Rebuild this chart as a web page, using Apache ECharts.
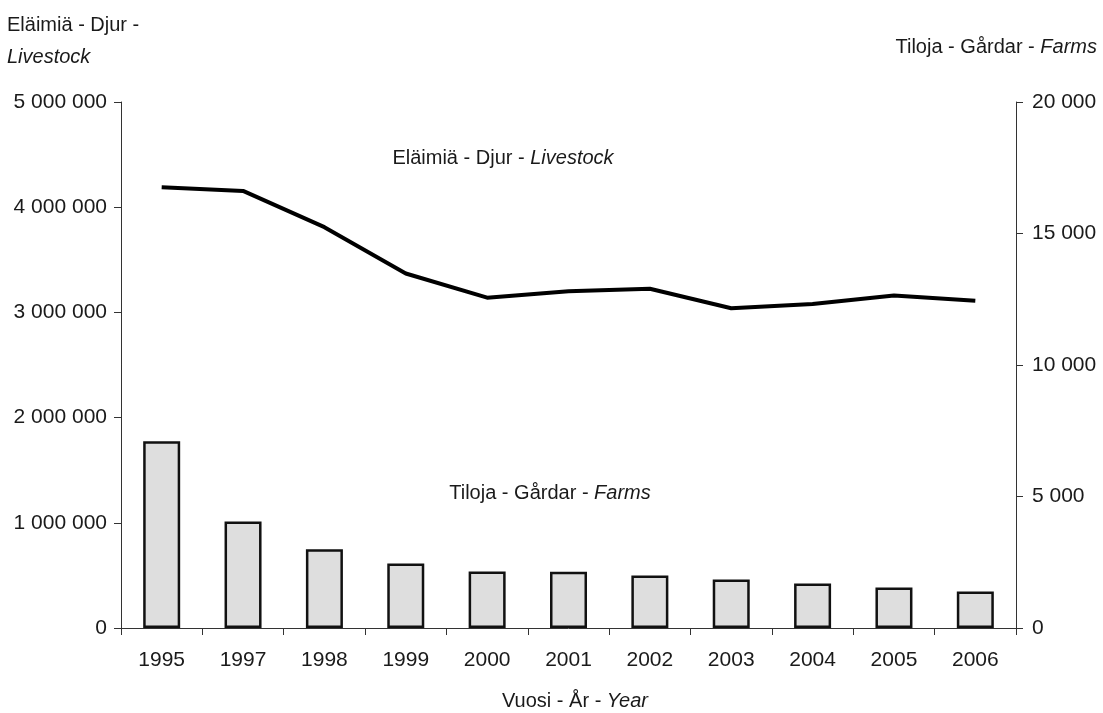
<!DOCTYPE html>
<html>
<head>
<meta charset="utf-8">
<script src="https://cdn.jsdelivr.net/npm/echarts@6/dist/echarts.min.js"></script>
<style>html,body{margin:0;padding:0;background:#fff}#c{width:1103px;height:713px}</style>
</head>
<body>
<div id="c"></div>
<script>
const years = ['1995','1997','1998','1999','2000','2001','2002','2003','2004','2005','2006'];
const livestock = [4190000,4155000,3810000,3370000,3140000,3200000,3225000,3040000,3080000,3160000,3110000];
const farms = [7100,4050,2990,2455,2150,2140,2000,1845,1695,1540,1390];
const leftTicks = [0,1000000,2000000,3000000,4000000,5000000];
const rightTicks = [0,5000,10000,15000,20000];

const fmt = v => String(v).replace(/\B(?=(\d{3})+(?!\d))/g, ' ');
const FONT = 'Liberation Sans, Arial, sans-serif';
const txt = '#1a1a1a';
const TS = 20;
const rn = {fontSize: TS, fontFamily: FONT, color: txt, fontWeight: 'normal'};
const ri = {fontSize: TS, fontFamily: FONT, color: txt, fontWeight: 'normal', fontStyle: 'italic'};

const chart = echarts.init(document.getElementById('c'));
chart.setOption({
  backgroundColor: '#fff',
  animation: false,
  textStyle: {fontFamily: FONT},
  grid: {left: 121, right: 87, top: 102, bottom: 85},
  title: [
    {text: '{n|Eläimiä - Djur -}\n{i|Livestock}', left: 2, top: 4,
     textStyle: {fontWeight: 'normal', rich: {n: Object.assign({}, rn, {lineHeight: 32}), i: Object.assign({}, ri, {lineHeight: 32})}}},
    {text: '{n|Tiloja - Gårdar - }{i|Farms}', right: 1, top: 32,
     textStyle: {fontWeight: 'normal', rich: {n: rn, i: ri}}},
    {text: '{n|Vuosi - År - }{i|Year}', left: 570, textAlign: 'center', top: 691,
     padding: [0, 5, 0, 5],
     textStyle: {fontWeight: 'normal', rich: {n: rn, i: ri}}},
    {text: '{n|Eläimiä - Djur - }{i|Livestock}', left: 498, textAlign: 'center', top: 143,
     textStyle: {fontWeight: 'normal', rich: {n: rn, i: ri}}},
    {text: '{n|Tiloja - Gårdar - }{i|Farms}', left: 545, textAlign: 'center', top: 478,
     textStyle: {fontWeight: 'normal', rich: {n: rn, i: ri}}}
  ],
  xAxis: {
    type: 'category', data: years, boundaryGap: true,
    axisLine: {lineStyle: {color: '#333', width: 1}},
    axisTick: {show: true, inside: false, length: 7, alignWithLabel: false, lineStyle: {color: '#333'}},
    axisLabel: {fontSize: 21, color: txt, margin: 22, fontFamily: FONT},
    splitLine: {show: false}
  },
  yAxis: [
    {type: 'value', min: leftTicks[0], max: leftTicks[leftTicks.length-1], interval: 1000000,
     position: 'left',
     axisLine: {show: true, lineStyle: {color: '#333'}},
     axisTick: {show: true, length: 7, lineStyle: {color: '#333'}},
     axisLabel: {fontSize: 21, color: txt, margin: 14, formatter: fmt, fontFamily: FONT},
     splitLine: {show: false}},
    {type: 'value', min: rightTicks[0], max: rightTicks[rightTicks.length-1], interval: 5000,
     position: 'right',
     axisLine: {show: true, lineStyle: {color: '#333'}},
     axisTick: {show: true, length: 7, lineStyle: {color: '#333'}},
     axisLabel: {fontSize: 21, color: txt, margin: 16, formatter: fmt, fontFamily: FONT},
     splitLine: {show: false}}
  ],
  series: [
    {type: 'bar', name: 'Farms', yAxisIndex: 1, data: farms, barWidth: 37,
     itemStyle: {color: '#dedede', borderColor: '#111', borderWidth: 2.5}, z: 2},
    {type: 'line', name: 'Livestock', yAxisIndex: 0, data: livestock,
     symbol: 'none', lineStyle: {color: '#000', width: 4}, z: 3}
  ]
});
</script>
</body>
</html>
